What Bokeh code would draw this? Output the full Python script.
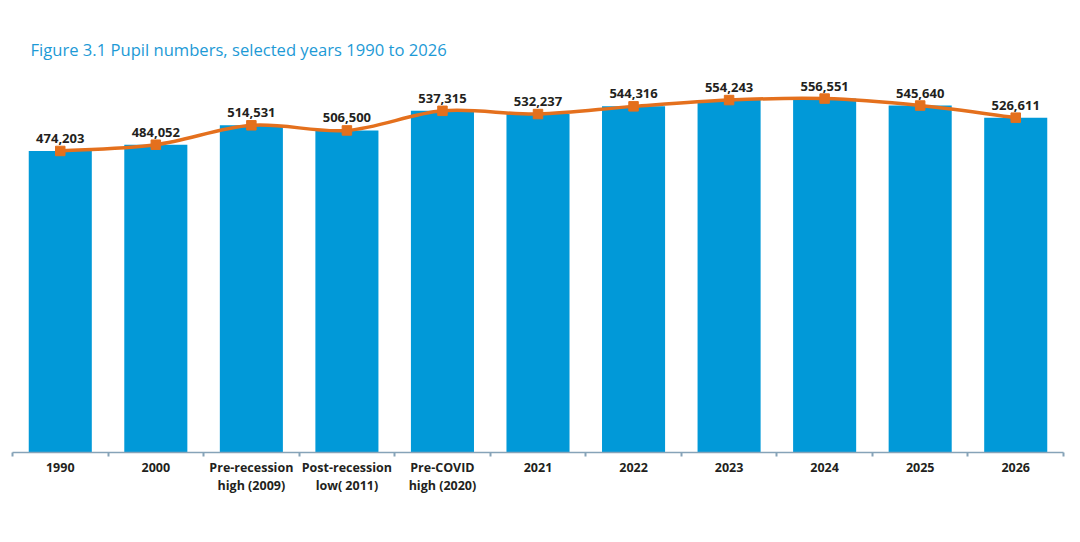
from bokeh.plotting import figure
from bokeh.models import Range1d, FixedTicker, ColumnDataSource, LabelSet
from bokeh.core.properties import value
from bokeh.embed import file_html
from bokeh.resources import INLINE

# Pupil numbers for the selected years
categories = [
    "1990",
    "2000",
    "Pre-recession\nhigh (2009)",
    "Post-recession\nlow( 2011)",
    "Pre-COVID\nhigh (2020)",
    "2021",
    "2022",
    "2023",
    "2024",
    "2025",
    "2026",
]
pupils = [474203, 484052, 514531, 506500, 537315, 532237, 544316, 554243, 556551, 545640, 526611]

BAR_BLUE = "#0199d8"
LINE_ORANGE = "#e4701d"
TEXT_DARK = "#231f20"
TITLE_BLUE = "#1d9ad6"
AXIS_GREY = "#86a3b8"
FONT = "Open Sans"

n = len(categories)
xs = [i + 0.5 for i in range(n)]

p = figure(
    width=1080,
    height=542,
    x_range=Range1d(0, n),
    y_range=Range1d(0, 585000),
    y_axis_location=None,
    output_backend="svg",
    toolbar_location=None,
    min_border_left=12,
    min_border_right=17,
    min_border_top=80,
    min_border_bottom=90,
)
p.outline_line_color = None
p.xgrid.grid_line_color = None
p.ygrid.grid_line_color = None
p.background_fill_color = "white"
p.border_fill_color = "white"

# Title
p.title.text = "Figure 3.1 Pupil numbers, selected years 1990 to 2026"
p.title.text_font = FONT
p.title.text_font_style = "normal"
p.title.text_font_size = "16.6px"
p.title.text_color = TITLE_BLUE
p.title.align = "left"
p.title.offset = 18
p.title.standoff = 40

# Bars
src = ColumnDataSource(dict(
    x=xs,
    y=pupils,
    label=[f"{v:,}" for v in pupils],
))
p.vbar(x="x", top="y", width=0.66, bottom=0, source=src,
       fill_color=BAR_BLUE, line_color=None)

# Smoothed trend line (cardinal spline through the bar tops)
def smooth_segments(xv, yv):
    px = [xv[0]] + list(xv) + [xv[-1]]
    py = [yv[0]] + list(yv) + [yv[-1]]
    seg = dict(x0=[], y0=[], x1=[], y1=[], cx0=[], cy0=[], cx1=[], cy1=[])
    for i in range(1, len(px) - 2):
        seg["x0"].append(px[i]); seg["y0"].append(py[i])
        seg["x1"].append(px[i + 1]); seg["y1"].append(py[i + 1])
        seg["cx0"].append(px[i] + (px[i + 1] - px[i - 1]) / 6)
        seg["cy0"].append(py[i] + (py[i + 1] - py[i - 1]) / 6)
        seg["cx1"].append(px[i + 1] - (px[i + 2] - px[i]) / 6)
        seg["cy1"].append(py[i + 1] - (py[i + 2] - py[i]) / 6)
    return seg

curve = ColumnDataSource(smooth_segments(xs, pupils))
p.bezier(x0="x0", y0="y0", x1="x1", y1="y1", cx0="cx0", cy0="cy0",
         cx1="cx1", cy1="cy1", source=curve,
         line_color=LINE_ORANGE, line_width=3.5)
p.scatter(x="x", y="y", source=src, marker="square", size=9.5,
          fill_color=LINE_ORANGE, line_color=LINE_ORANGE)

# Value labels
labels = LabelSet(x="x", y="y", text="label", source=src,
                  y_offset=8, text_align="center", text_baseline="alphabetic",
                  text_font=value(FONT), text_font_style="bold",
                  text_font_size="13px", text_color=TEXT_DARK)
p.add_layout(labels)

# Category axis: labels at bar centres, small ticks between categories
ax = p.xaxis[0]
ax.ticker = FixedTicker(ticks=xs, minor_ticks=list(range(n + 1)))
ax.major_label_overrides = {x: c for x, c in zip(xs, categories)}
ax.major_tick_out = 0
ax.major_tick_in = 0
ax.minor_tick_out = 4
ax.minor_tick_in = 0
ax.minor_tick_line_color = AXIS_GREY
ax.minor_tick_line_width = 2
ax.axis_line_color = AXIS_GREY
ax.axis_line_width = 1.5
ax.major_label_standoff = 2
ax.major_label_text_font = FONT
ax.major_label_text_font_style = "bold"
ax.major_label_text_font_size = "12.5px"
ax.major_label_text_color = TEXT_DARK
ax.major_label_text_line_height = 1.1

open("out.html", "w").write(file_html(p, INLINE))
